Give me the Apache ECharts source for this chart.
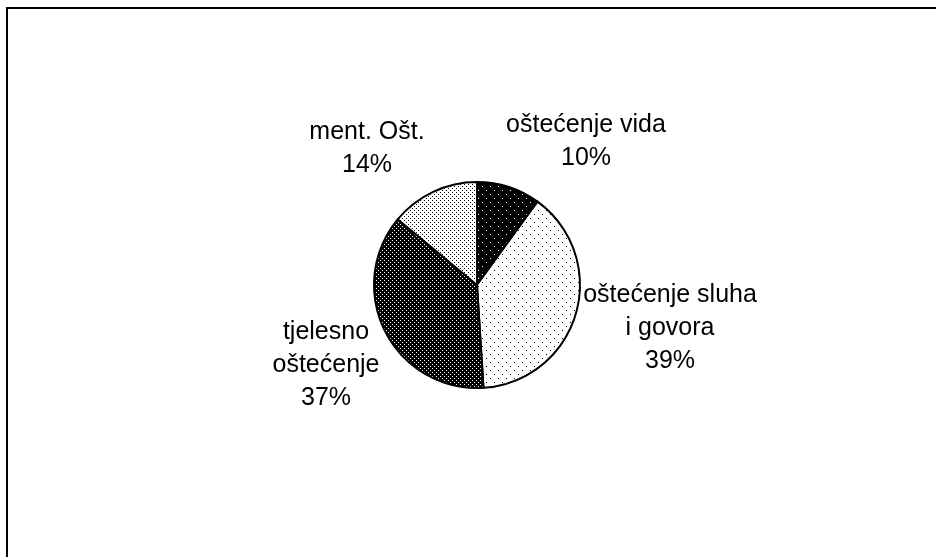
<!DOCTYPE html>
<html>
<head>
<meta charset="utf-8">
<script src="https://cdn.jsdelivr.net/npm/echarts@6/dist/echarts.min.js"></script>
<style>
    html, body { margin: 0; padding: 0; background: #fff; }
    #chart { width: 936px; height: 557px; }
</style>
</head>
<body>
<div id="chart"></div>
<script>
const categories = ['oštećenje vida', 'oštećenje sluha\ni govora', 'tjelesno\noštećenje', 'ment. Ošt.'];
const values = [10, 39, 37, 14];

// label centres, relative to the pie centre
const labelOffsets = [[109, -143], [193, 43], [-151, 80], [-110, -136]];

// dotted fills, the way the old office chart shaded them
const makePattern = (size, bg, fg, dots) => {
    const c = document.createElement('canvas');
    c.width = size;
    c.height = size;
    const ctx = c.getContext('2d');
    ctx.fillStyle = bg;
    ctx.fillRect(0, 0, size, size);
    ctx.fillStyle = fg;
    dots.forEach(([x, y]) => ctx.fillRect(x, y, 1, 1));
    return { image: c, repeat: 'repeat' };
};

const fills = [
    makePattern(8, '#000', '#fff', [[2, 2], [6, 6]]),
    makePattern(8, '#fff', '#000', [[2, 2], [6, 6]]),
    makePattern(4, '#000', '#fff', [[0, 0], [2, 2]]),
    makePattern(4, '#fff', '#000', [[0, 0], [2, 2]]),
];

const cx = 477;
const cy = 285;

const chart = echarts.init(document.getElementById('chart'));

chart.setOption({
    animation: false,
    graphic: [
        {
            type: 'polyline',
            shape: { points: [[7, 557], [7, 8], [936, 8]] },
            style: { stroke: '#000', lineWidth: 2, fill: null },
        },
    ],
    series: [
        {
            type: 'pie',
            center: [cx, cy],
            radius: 103,
            startAngle: 90,
            clockwise: true,
            data: values.map((v, i) => ({
                name: categories[i],
                value: v,
                itemStyle: { color: fills[i] },
            })),
            itemStyle: {
                borderColor: '#000',
                borderWidth: 2,
            },
            emphasis: { disabled: true },
            label: {
                show: true,
                position: 'outside',
                formatter: (p) => p.name + '\n' + Math.round(p.percent) + '%',
                fontFamily: 'Liberation Sans, Arial, sans-serif',
                fontSize: 25,
                lineHeight: 33,
                color: '#000',
                align: 'center',
            },
            labelLine: { show: false },
            labelLayout: (params) => {
                const off = labelOffsets[params.dataIndex];
                return {
                    x: cx + off[0],
                    y: cy + off[1],
                    align: 'center',
                    verticalAlign: 'middle',
                };
            },
        },
    ],
});
</script>
</body>
</html>
